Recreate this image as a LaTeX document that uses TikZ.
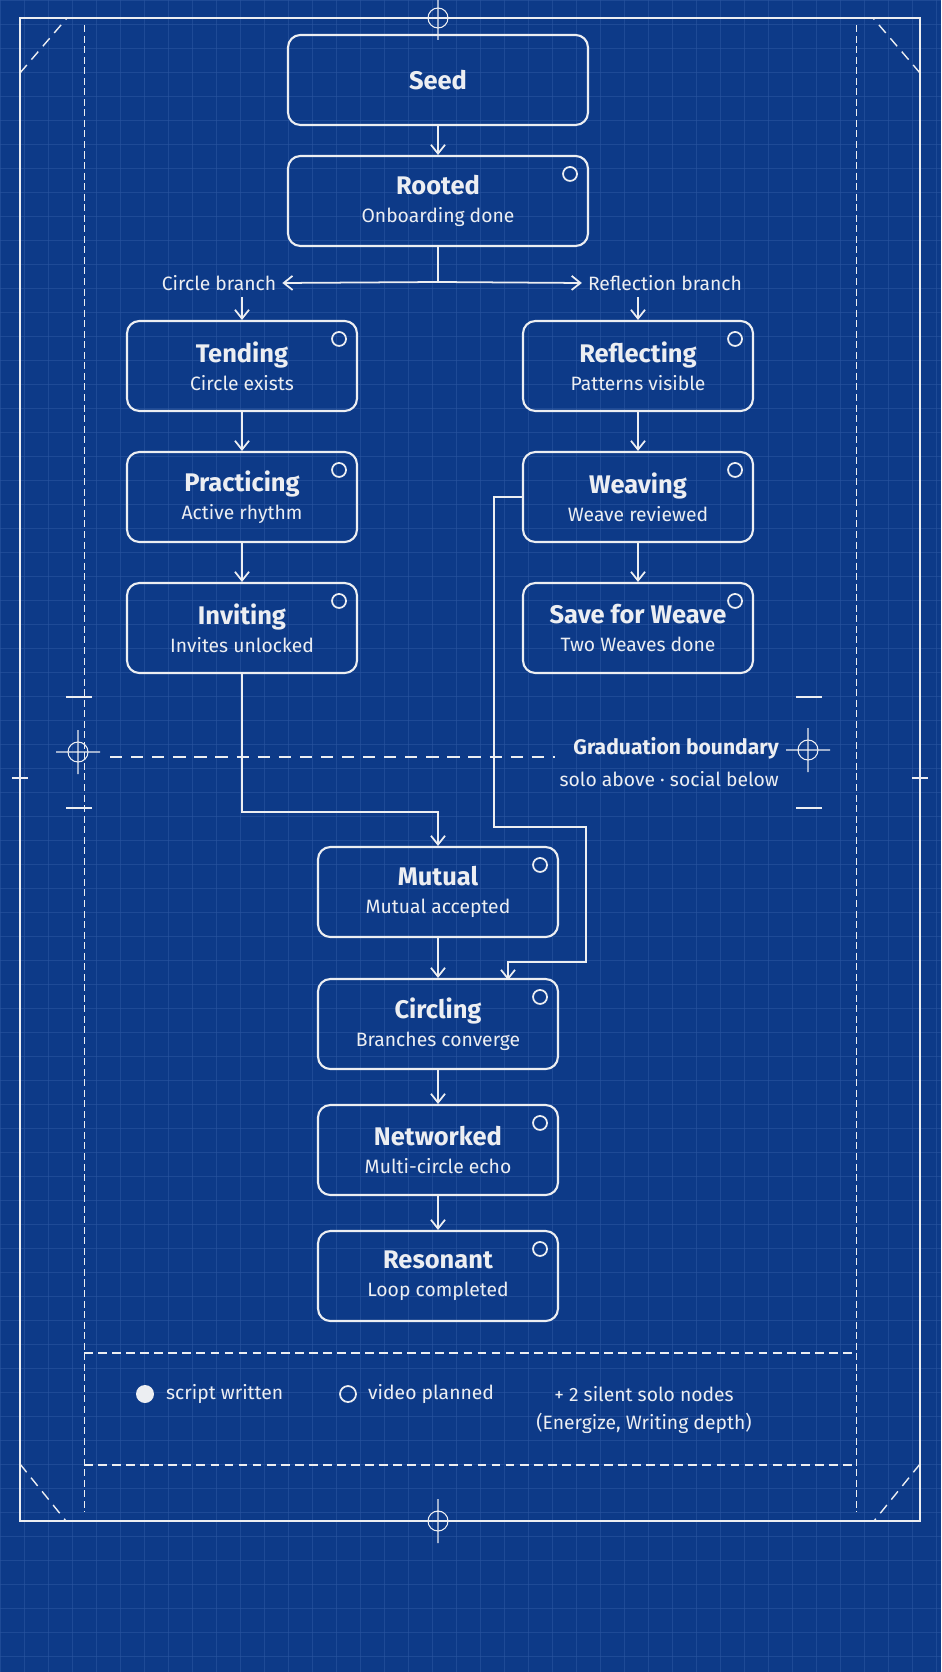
\documentclass[tikz,border=0pt]{standalone}
\usepackage{fontspec}
\setmainfont{Fira Sans}
\usepackage{tikz}
\usetikzlibrary{arrows.meta,positioning}
\definecolor{bpblue}{HTML}{0D3A88}
\definecolor{bpgrid}{HTML}{2A55A0}
\definecolor{ink}{HTML}{ECEEF2}
\tikzset{
  stage/.style={draw=ink,line width=1.2pt,rounded corners=7pt,minimum width=4.6cm,minimum height=1.8cm,align=center,text=ink,font=\fontsize{11}{16}\selectfont},
  wide/.style={stage,minimum width=6cm},
  flow/.style={draw=ink,line width=1pt,-{Straight Barb[length=5pt,width=8pt]}},
  frame/.style={draw=ink,line width=0.9pt},
  dashframe/.style={draw=ink,line width=0.8pt,dash pattern=on 6pt off 4pt},
  lbl/.style={text=ink,font=\fontsize{11}{13}\selectfont}
}
\newcommand{\stagetext}[2]{{\fontsize{14.5}{16}\selectfont\bfseries #1}\\#2}
\newcommand{\videomark}[1]{\draw[ink,line width=1pt] ([xshift=-0.38cm,yshift=-0.38cm]#1.north east) circle (0.14cm);}
\newcommand{\crosshair}[1]{\draw[ink,line width=0.6pt] #1 circle (0.2cm) ++(-22,0) -- ++(44,0) ++(-22,-22) -- ++(0,44);}
\begin{document}
\begin{tikzpicture}[x=0.02cm,y=-0.02cm]
% background and grid
\fill[bpblue] (0,0) rectangle (941,1672);
\useasboundingbox (0,0) rectangle (941,1672);
\foreach \i in {0,24,...,941} \draw[bpgrid,line width=0.3pt,opacity=0.6] (\i,0) -- (\i,1672);
\foreach \j in {0,24,...,1672} \draw[bpgrid,line width=0.3pt,opacity=0.6] (0,\j) -- (941,\j);
% frame
\draw[frame] (20,18) rectangle (920,1521);
\draw[dashframe,line width=0.5pt,dash pattern=on 4pt off 2pt] (84,25) -- (84,1512) (856,25) -- (856,1512);
\draw[dashframe] (20,73) -- (67,18) (920,73) -- (873,18) (20,1464) -- (66,1521) (920,1464) -- (874,1521);
\crosshair{(438,18)}
\crosshair{(438,1521)}
\crosshair{(78,752)}
\crosshair{(808,750)}
\draw[ink,line width=0.6pt] (66,697) -- (92,697) (66,808) -- (92,808) (796,697) -- (822,697) (796,808) -- (822,808)
  (12,778) -- (28,778) (912,778) -- (928,778);
% nodes
\node[wide] (seed) at (438,80) {{\fontsize{14.5}{16}\selectfont\bfseries Seed}};
\node[wide] (rooted) at (438,201) {\stagetext{Rooted}{Onboarding done}};
\node[stage] (tending) at (242,366) {\stagetext{Tending}{Circle exists}};
\node[stage] (practicing) at (242,497) {\stagetext{Practicing}{Active rhythm}};
\node[stage] (inviting) at (242,628) {\stagetext{Inviting}{Invites unlocked}};
\node[stage] (reflecting) at (638,366) {\stagetext{Reflecting}{Patterns visible}};
\node[stage] (weaving) at (638,497) {\stagetext{Weaving}{Weave reviewed}};
\node[stage] (save) at (638,628) {\stagetext{Save for Weave}{Two Weaves done}};
\node[stage,minimum width=4.8cm] (mutual) at (438,892) {\stagetext{Mutual}{Mutual accepted}};
\node[stage,minimum width=4.8cm] (circling) at (438,1024) {\stagetext{Circling}{Branches converge}};
\node[stage,minimum width=4.8cm] (networked) at (438,1150) {\stagetext{Networked}{Multi-circle echo}};
\node[stage,minimum width=4.8cm] (resonant) at (438,1276) {\stagetext{Resonant}{Loop completed}};
\foreach \n in {rooted,tending,practicing,inviting,reflecting,weaving,save,mutual,circling,networked,resonant} {\videomark{\n}}
% branch split
\node[lbl] (circlelbl) at (219,283) {Circle branch};
\node[lbl] (refllbl) at (665,283) {Reflection branch};
\coordinate (split) at (438,282);
\draw[ink,line width=1pt] (rooted.south) -- (split);
\draw[flow] (split) -- (circlelbl.east);
\draw[flow] (split) -- (refllbl.west);
\draw[flow] (circlelbl.south -| tending.north) -- (tending.north);
\draw[flow] (refllbl.south -| reflecting.north) -- (reflecting.north);
% main flow
\draw[flow] (seed) -- (rooted);
\draw[flow] (tending) -- (practicing);
\draw[flow] (practicing) -- (inviting);
\draw[flow] (reflecting) -- (weaving);
\draw[flow] (weaving) -- (save);
\coordinate (invturn) at (438,812);
\draw[flow] (inviting.south) |- (invturn) -- (mutual.north);
\coordinate (wvleft) at (494,827);
\coordinate (wvright) at (586,962);
\coordinate (wvend) at (508,980);
\draw[flow] (weaving.west) -| (wvleft) -| (wvright) -| (wvend);
\draw[flow] (mutual) -- (circling);
\draw[flow] (circling) -- (networked);
\draw[flow] (networked) -- (resonant);
% graduation boundary
\draw[ink,line width=0.9pt,dash pattern=on 7pt off 5pt] (110,757) -- (555,757);
\node[lbl,anchor=east,font=\fontsize{12}{14}\selectfont\bfseries] (grad) at (785,748) {Graduation boundary};
\node[lbl,anchor=east] (gradsub) at (785,779) {solo above · social below};
% legend
\draw[dashframe,line width=0.6pt,dash pattern=on 5pt off 3pt] (84,1353) -- (856,1353) (84,1465) -- (856,1465);
\fill[ink] (145,1394) circle (0.18cm);
\node[lbl,anchor=west] (scriptlbl) at (160,1394) {script written};
\draw[ink,line width=1pt] (348,1394) circle (0.16cm);
\node[lbl,anchor=west] (videolbl) at (362,1394) {video planned};
\node[lbl] (silent) at (644,1394) {+ 2 silent solo nodes};
\node[lbl] (silentsub) at (644,1423) {(Energize, Writing depth)};
\end{tikzpicture}
\end{document}
